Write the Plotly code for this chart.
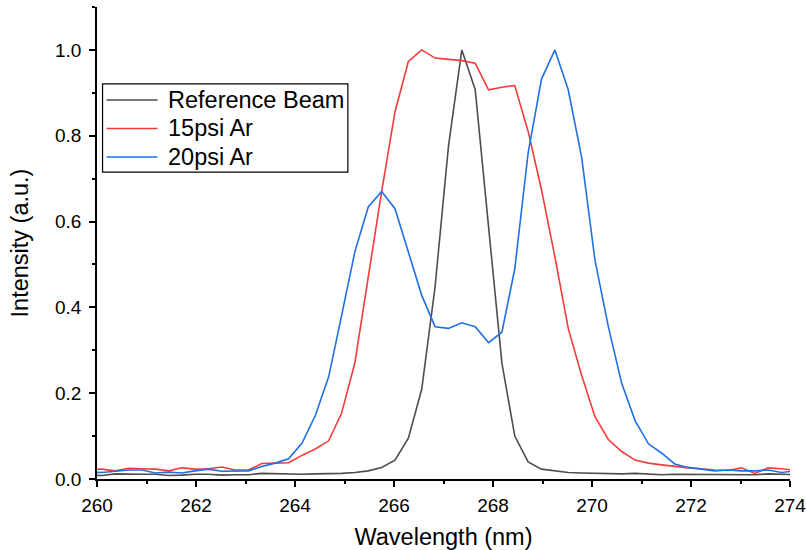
import plotly.graph_objects as go

wavelength = [259.83, 260.10, 260.37, 260.64, 260.91, 261.18, 261.45, 261.71, 261.98, 262.25,
              262.52, 262.79, 263.06, 263.33, 263.60, 263.87, 264.14, 264.41, 264.68, 264.94,
              265.21, 265.48, 265.75, 266.02, 266.29, 266.56, 266.83, 267.10, 267.37, 267.64,
              267.91, 268.18, 268.44, 268.71, 268.98, 269.25, 269.52, 269.79, 270.06, 270.33,
              270.60, 270.87, 271.14, 271.41, 271.67, 271.94, 272.21, 272.48, 272.75, 273.02,
              273.29, 273.56, 273.83, 274.10]

reference_beam = [0.009, 0.008, 0.012, 0.011, 0.011, 0.011, 0.008, 0.009, 0.011, 0.011,
                  0.009, 0.010, 0.010, 0.013, 0.012, 0.011, 0.011, 0.012, 0.012, 0.013,
                  0.015, 0.019, 0.027, 0.044, 0.095, 0.209, 0.448, 0.775, 1.000, 0.908,
                  0.588, 0.270, 0.100, 0.040, 0.023, 0.019, 0.015, 0.014, 0.013, 0.012,
                  0.012, 0.013, 0.012, 0.010, 0.011, 0.011, 0.011, 0.010, 0.010, 0.010,
                  0.010, 0.012, 0.011, 0.010]

ar_15psi = [0.022, 0.023, 0.019, 0.025, 0.024, 0.023, 0.019, 0.026, 0.023, 0.024,
            0.028, 0.021, 0.021, 0.036, 0.037, 0.038, 0.055, 0.070, 0.089, 0.153,
            0.271, 0.470, 0.670, 0.856, 0.973, 1.000, 0.981, 0.978, 0.975, 0.969,
            0.907, 0.913, 0.917, 0.810, 0.674, 0.518, 0.351, 0.242, 0.145, 0.092,
            0.064, 0.044, 0.037, 0.033, 0.029, 0.026, 0.024, 0.021, 0.020, 0.026,
            0.013, 0.026, 0.024, 0.020]

ar_20psi = [0.016, 0.015, 0.018, 0.021, 0.021, 0.014, 0.016, 0.014, 0.019, 0.023,
            0.018, 0.019, 0.019, 0.029, 0.037, 0.047, 0.083, 0.148, 0.238, 0.380,
            0.530, 0.634, 0.670, 0.630, 0.530, 0.428, 0.355, 0.351, 0.364, 0.355,
            0.318, 0.342, 0.490, 0.760, 0.932, 1.000, 0.907, 0.750, 0.510, 0.355,
            0.223, 0.136, 0.082, 0.060, 0.035, 0.027, 0.023, 0.019, 0.021, 0.019,
            0.019, 0.021, 0.015, 0.019]

series_names = ["Reference Beam", "15psi Ar", "20psi Ar"]
x_ticks = [260, 262, 264, 266, 268, 270, 272, 274]
y_ticks = [0.0, 0.2, 0.4, 0.6, 0.8, 1.0]

colors = ["#4d4d4d", "#f23c3c", "#1f6fe5"]
FONT = "Liberation Sans, Arial, sans-serif"

fig = go.Figure()
for name, ys, c in zip(series_names, [reference_beam, ar_15psi, ar_20psi], colors):
    fig.add_trace(go.Scatter(x=wavelength, y=ys, mode="lines", name=name,
                             line=dict(color=c, width=1.6), showlegend=False))

# Legend drawn as a boxed key (paper coordinates)
leg_x0, leg_x1, leg_y0, leg_y1 = 0.008, 0.362, 0.650, 0.837
line_x0, line_x1, text_x = 0.0137, 0.0874, 0.0989
row_y = [0.803, 0.7426, 0.6822]
fig.add_shape(type="rect", xref="paper", yref="paper", x0=leg_x0, x1=leg_x1, y0=leg_y0, y1=leg_y1,
              line=dict(color="black", width=1.2), fillcolor="white", layer="above")
for name, c, yy in zip(series_names, colors, row_y):
    fig.add_shape(type="line", xref="paper", yref="paper", x0=line_x0, x1=line_x1, y0=yy, y1=yy,
                  line=dict(color=c, width=1.6), layer="above")
    fig.add_annotation(xref="paper", yref="paper", x=text_x, y=yy, text=name, showarrow=False,
                       xanchor="left", yanchor="middle",
                       font=dict(family=FONT, size=23.5, color="black"))

axis_common = dict(
    showline=True, linecolor="black", linewidth=1.5,
    ticks="outside", ticklen=6, tickwidth=1.5, tickcolor="black",
    showgrid=False, zeroline=False, mirror=False, automargin=False,
    tickfont=dict(family=FONT, size=19, color="black"),
    ticklabeloverflow="allow",
)

fig.update_layout(
    width=806, height=550,
    margin=dict(l=97, r=16, t=7, b=71, autoexpand=False),
    plot_bgcolor="white", paper_bgcolor="white",
    font=dict(family=FONT, color="black"),
    xaxis=dict(range=[260, 274], tickvals=x_ticks, ticktext=[str(v) for v in x_ticks],
               title=dict(text="Wavelength (nm)", font=dict(size=23.5), standoff=16),
               minor=dict(dtick=1, tick0=260, ticks="outside", ticklen=3, tickwidth=1.5, tickcolor="black"),
               ticklabelstandoff=2,
               **axis_common),
    yaxis=dict(range=[0, 1.1], tickvals=y_ticks, ticktext=[f"{v:.1f}" for v in y_ticks],
               title=dict(text="Intensity (a.u.)", font=dict(size=23.5), standoff=20),
               minor=dict(dtick=0.1, tick0=0, ticks="outside", ticklen=3, tickwidth=1.5, tickcolor="black"),
               ticklabelstandoff=4,
               **axis_common),
    showlegend=False,
)

fig.write_html("out.html")
